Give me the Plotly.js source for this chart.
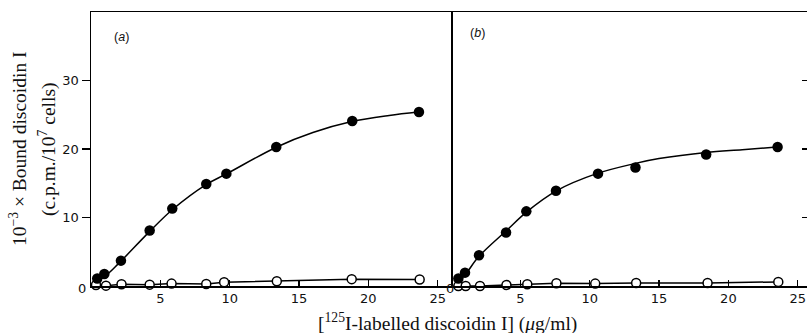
<!DOCTYPE html>
<html><head><meta charset="utf-8">
<script src="https://cdn.plot.ly/plotly-3.0.1.min.js"></script>
<style>html,body{margin:0;padding:0;background:#fff}#c{width:807px;height:333px}</style>
</head><body><div id="c"></div>
<script>
// Panel (a)
const aFilledX = [0.45, 0.96, 2.16, 4.23, 5.86, 8.31, 9.76, 13.36, 18.84, 23.65];
const aFilledY = [1.1, 1.75, 3.7, 8.1, 11.3, 14.9, 16.4, 20.3, 24.1, 25.4];
const aOpenX = [0.36, 1.08, 2.2, 4.23, 5.81, 8.31, 9.6, 13.4, 18.8, 23.7];
const aOpenY = [0.15, 0.05, 0.25, 0.2, 0.35, 0.3, 0.55, 0.7, 1.0, 0.95];
const aCurveX = [0.3, 1.0, 2.0, 4.2, 5.9, 8.3, 9.8, 13.4, 16.0, 18.8, 21.5, 23.6];
const aCurveY = [0.6, 1.4, 3.3, 7.9, 11.2, 14.8, 16.4, 20.3, 22.4, 24.0, 24.9, 25.4];
// Panel (b)
const bFilledX = [0.53, 1.01, 2.02, 3.97, 5.43, 7.57, 10.6, 13.3, 18.4, 23.55];
const bFilledY = [1.1, 1.95, 4.5, 7.8, 10.9, 13.9, 16.4, 17.3, 19.2, 20.3];
const bOpenX = [0.53, 1.06, 2.09, 4.0, 5.5, 7.6, 10.4, 13.35, 18.5, 23.6];
const bOpenY = [0.0, 0.0, 0.0, 0.15, 0.25, 0.4, 0.35, 0.45, 0.45, 0.6];
const bCurveX = [0.2, 1.0, 2.0, 4.0, 5.5, 7.6, 10.5, 13.3, 15.0, 18.4, 21.0, 23.5];
const bCurveY = [0.0, 1.6, 4.3, 8.1, 10.9, 13.9, 16.4, 17.9, 18.6, 19.5, 19.9, 20.3];
const xTicks = [5, 10, 15, 20, 25];
const yTicks = [10, 20, 30];

const filledM = {symbol: 'circle', size: 10.5, color: '#000'};
const openM = {symbol: 'circle', size: 9, color: '#fff', line: {color: '#000', width: 1.5}};
const lineS = {color: '#000', width: 1.5};
const traces = [
  {x: aCurveX, y: aCurveY, mode: 'lines', line: Object.assign({shape: 'spline', smoothing: 1}, lineS), xaxis: 'x', yaxis: 'y', cliponaxis: false},
  {x: aOpenX, y: aOpenY, mode: 'lines+markers', line: lineS, marker: openM, xaxis: 'x', yaxis: 'y', cliponaxis: false},
  {x: aFilledX, y: aFilledY, mode: 'markers', marker: filledM, xaxis: 'x', yaxis: 'y', cliponaxis: false},
  {x: bCurveX, y: bCurveY, mode: 'lines', line: Object.assign({shape: 'spline', smoothing: 1}, lineS), xaxis: 'x2', yaxis: 'y2', cliponaxis: false},
  {x: bOpenX, y: bOpenY, mode: 'lines+markers', line: lineS, marker: openM, xaxis: 'x2', yaxis: 'y2', cliponaxis: false},
  {x: bFilledX, y: bFilledY, mode: 'markers', marker: filledM, xaxis: 'x2', yaxis: 'y2', cliponaxis: false}
];
const tickFont = {family: 'DejaVu Sans, Arial, sans-serif', size: 13, color: '#111'};
const serif = {family: 'Liberation Serif, Times New Roman, serif', size: 19.5, color: '#111'};
const labFont = {family: 'Liberation Sans, Arial, sans-serif', size: 12.5, color: '#111'};
const split = 360 / 716;
const xBase = {tickmode: 'array', tickvals: xTicks, ticks: 'inside', ticklen: 6, tickcolor: '#000', tickwidth: 1.3,
  showline: true, linecolor: '#000', linewidth: 1.5, mirror: true, showgrid: false, zeroline: false, tickfont: tickFont, fixedrange: true};
const layout = {
  width: 807, height: 333, margin: {l: 91, r: 0, t: 12, b: 47},
  paper_bgcolor: '#fff', plot_bgcolor: '#fff', showlegend: false,
  xaxis: Object.assign({}, xBase, {domain: [0, split], range: [0, 25.96], anchor: 'y'}),
  xaxis2: Object.assign({}, xBase, {domain: [split, 1], range: [0, 25.67], anchor: 'y2'}),
  yaxis: {domain: [0, 1], range: [0, 40], tickmode: 'array', tickvals: yTicks, ticks: 'outside', ticklen: 8, tickcolor: '#000', tickwidth: 1.3,
    showline: true, linecolor: '#000', linewidth: 1.5, mirror: true, showgrid: false, zeroline: false, tickfont: tickFont, anchor: 'x', fixedrange: true},
  yaxis2: {domain: [0, 1], range: [0, 40], tickmode: 'array', tickvals: yTicks, ticks: 'inside', ticklen: 5, tickcolor: '#000', tickwidth: 1.3,
    showline: false, side: 'right', showgrid: false, zeroline: false, showticklabels: false, anchor: 'x2', fixedrange: true},
  annotations: [
    {text: '0', xref: 'x', yref: 'paper', x: 0, y: 0, yshift: -12, xshift: -9, showarrow: false, font: tickFont},
    {text: '0', xref: 'x2', yref: 'paper', x: 0, y: 0, yshift: -12, xshift: -1, showarrow: false, font: tickFont},
    {text: '(<i>a</i>)', xref: 'paper', yref: 'paper', x: (121 - 91) / 716, y: (286 - 37) / 274, xanchor: 'center', yanchor: 'middle', showarrow: false, font: labFont},
    {text: '(<i>b</i>)', xref: 'paper', yref: 'paper', x: (477 - 91) / 716, y: (286 - 33) / 274, xanchor: 'center', yanchor: 'middle', showarrow: false, font: labFont},
    {text: '[<sup>125</sup>I-labelled discoidin I] (<i>μ</i>g/ml)', xref: 'paper', yref: 'paper', x: (447 - 91) / 716, xanchor: 'center', y: 0, yshift: -36, yanchor: 'middle', showarrow: false, font: serif},
    {text: '10<sup>−3</sup> × Bound discoidin I', xref: 'paper', yref: 'paper', x: 0, xshift: -73, xanchor: 'center', y: 0.5, yanchor: 'middle', showarrow: false, textangle: -90, font: serif},
    {text: '(c.p.m./10<sup>7</sup> cells)', xref: 'paper', yref: 'paper', x: 0, xshift: -44, xanchor: 'center', y: 0.5, yanchor: 'middle', showarrow: false, textangle: -90, font: serif}
  ]
};
Plotly.newPlot('c', traces, layout, {staticPlot: true});
</script></body></html>
